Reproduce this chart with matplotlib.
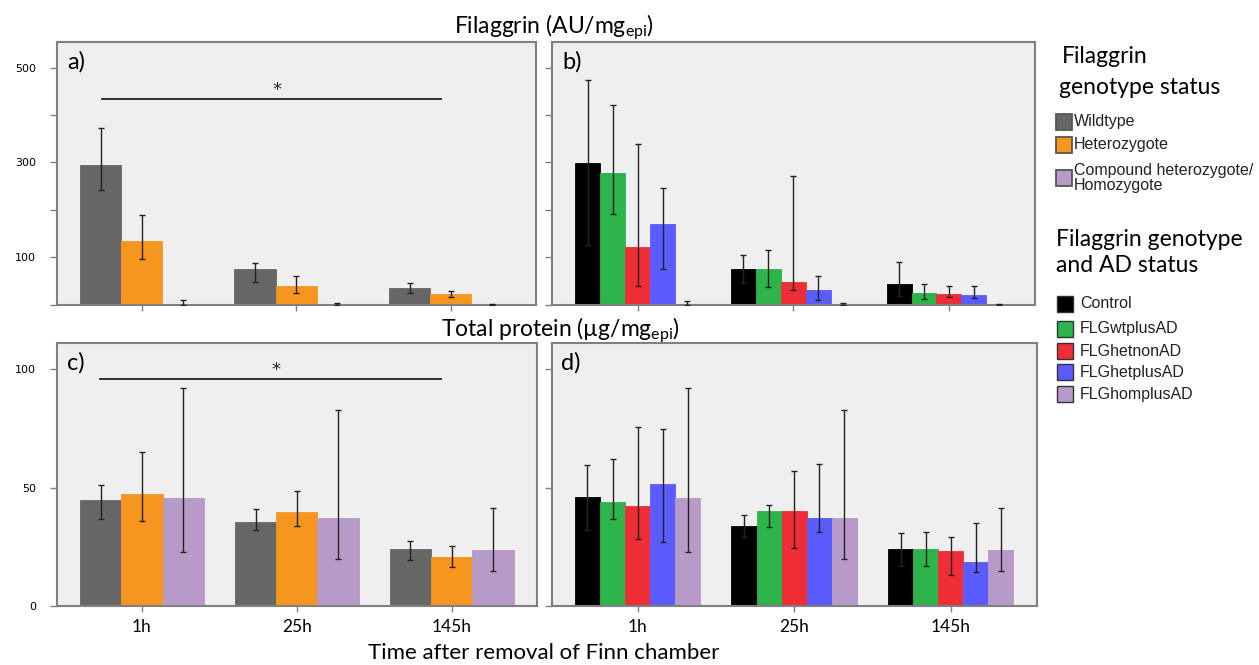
import numpy as np
import matplotlib
matplotlib.use("Agg")
import matplotlib.pyplot as plt
from matplotlib.patches import Rectangle

plt.rcParams['font.family'] = ['Lato', 'DejaVu Sans']
plt.rcParams['mathtext.fontset'] = 'custom'
plt.rcParams['mathtext.rm'] = 'Lato'
plt.rcParams['mathtext.it'] = 'Lato:italic'
plt.rcParams['mathtext.bf'] = 'Lato:bold'

# ---------------- data ----------------
times = ['1h', '25h', '145h']
genotypes = ['Wildtype', 'Heterozygote', 'Compound heterozygote/\nHomozygote']
ad_groups = ['Control', 'FLGwtplusAD', 'FLGhetnonAD', 'FLGhetplusAD', 'FLGhomplusAD']

# Filaggrin (AU/mg epi) by genotype: rows = genotypes, cols = times
flg_geno_mean = [[295, 74, 35], [134, 39, 22], [1.0, 1.5, 0.5]]
flg_geno_lo = [[241, 48, 24], [95, 24, 15], [0, 0, 0]]
flg_geno_hi = [[373, 87, 46], [189, 60, 29.5], [9, 3, 1]]

# Filaggrin by genotype and AD status
flg_ad_mean = [[299, 74, 44], [277, 74, 25], [121, 47, 22], [170, 30, 21], [1.0, 1.5, 0.5]]
flg_ad_lo = [[125, 45, 18], [192, 37, 12], [38, 30, 15], [74, 9, 13], [0, 0, 0]]
flg_ad_hi = [[473, 104, 90], [421, 114, 44], [338, 272, 39], [246, 60, 39], [8, 3, 1]]

# Total protein (ug/mg epi) by genotype
tp_geno_mean = [[44.8, 35.4, 24.2], [47.2, 39.7, 20.8], [45.5, 37.2, 23.7]]
tp_geno_lo = [[36.8, 32.0, 19.4], [35.9, 33.7, 16.6], [22.7, 19.9, 14.9]]
tp_geno_hi = [[51.1, 41.0, 27.5], [65.2, 48.6, 25.3], [92.2, 82.8, 41.5]]

# Total protein by genotype and AD status
tp_ad_mean = [[45.8, 33.7, 24.1], [43.8, 40.1, 24.2], [42.2, 40.3, 23.4], [51.3, 37.2, 18.7], [45.5, 37.2, 23.7]]
tp_ad_lo = [[32.0, 29.0, 17.0], [36.8, 33.2, 16.8], [28.3, 24.4, 13.1], [26.9, 31.4, 14.4], [22.7, 19.9, 14.9]]
tp_ad_hi = [[59.7, 38.4, 31.0], [62.2, 42.5, 31.4], [75.5, 56.8, 29.2], [74.5, 60.0, 35.2], [92.2, 82.8, 41.5]]

# significance bars: (from group, to group, height)
sig_flg = (-0.26, 1.94, 434)
sig_tp = (-0.27, 1.93, 96)

geno_colors = ['#666666', '#F7961E', '#B89AC9']
ad_colors = ['#000000', '#2DB44A', '#EE2D36', '#5A5CFF', '#B89AC9']

# ---------------- layout ----------------
W, H = 1259, 665
fig = plt.figure(figsize=(W / 100, H / 100), dpi=100)


def rect(x0, y0, x1, y1):
    return [x0 / W, 1 - y1 / H, (x1 - x0) / W, (y1 - y0) / H]


axA = fig.add_axes(rect(56.8, 42, 535.7, 304.5))
axB = fig.add_axes(rect(552, 42, 1034.5, 304.5))
axC = fig.add_axes(rect(56.8, 343, 536.8, 606))
axD = fig.add_axes(rect(551.5, 343, 1036.7, 606))


def draw(ax, means, los, his, colors):
    n = len(means)
    x = np.arange(len(times))
    w = 0.8 / n
    for i in range(n):
        m = np.array(means[i], float)
        lo = np.array(los[i], float)
        hi = np.array(his[i], float)
        xi = x + (i - (n - 1) / 2) * w
        ax.bar(xi, m, width=w, color=colors[i], edgecolor=colors[i], linewidth=0.6, zorder=2)
        ax.errorbar(xi, m, yerr=[m - lo, hi - m], fmt='none', ecolor='#222222',
                    elinewidth=1.0, capsize=2.5, capthick=1.0, zorder=3)


def style(ax, ylim, yticks, ylabels, xlabels):
    ax.set_facecolor('#EFEFEF')
    ax.set_xlim(-0.55, 2.55)
    ax.set_ylim(0, ylim)
    for s in ax.spines.values():
        s.set_color('#808080')
        s.set_linewidth(1.5)
    ax.set_yticks(yticks)
    ax.set_yticklabels(ylabels, fontsize=8, family='DejaVu Sans')
    ax.set_xticks(np.arange(len(times)))
    if xlabels:
        ax.set_xticklabels(times, fontsize=12.5)
    else:
        ax.set_xticklabels([])
    ax.tick_params(axis='y', length=5, width=1, color='#808080', pad=10)
    ax.tick_params(axis='x', length=4, width=1, color='#808080', pad=5)


draw(axA, flg_geno_mean, flg_geno_lo, flg_geno_hi, geno_colors)
draw(axB, flg_ad_mean, flg_ad_lo, flg_ad_hi, ad_colors)
draw(axC, tp_geno_mean, tp_geno_lo, tp_geno_hi, geno_colors)
draw(axD, tp_ad_mean, tp_ad_lo, tp_ad_hi, ad_colors)

top_ticks = [0, 100, 200, 300, 400, 500]
top_labels = ['', '100', '', '300', '', '500']
bot_ticks = [0, 50, 100]
style(axA, 554, top_ticks, top_labels, False)
style(axB, 554, top_ticks, [''] * 6, False)
style(axC, 111, bot_ticks, ['0', '50', '100'], True)
style(axD, 111, bot_ticks, [''] * 3, True)

for ax, sig in [(axA, sig_flg), (axC, sig_tp)]:
    x0, x1, yv = sig
    ax.plot([x0, x1], [yv, yv], color='#222222', lw=1.3, zorder=4)
    ax.text((x0 + x1) / 2 + 0.035, yv, '*', ha='center', va='bottom', fontsize=13,
            family='DejaVu Sans', color='#222222')

for ax, lab in [(axA, 'a)'), (axB, 'b)'), (axC, 'c)'), (axD, 'd)')]:
    ax.annotate(lab, xy=(0, 1), xycoords='axes fraction', xytext=(10, -9),
                textcoords='offset pixels', ha='left', va='top', fontsize=17)

# ---------------- titles ----------------
ov = fig.add_axes([0, 0, 1, 1], zorder=10)
ov.set_xlim(0, W)
ov.set_ylim(H, 0)
ov.axis('off')

ov.text(554, 33, r'Filaggrin (AU/mg$_{\mathregular{epi}}$)', ha='center', va='baseline', fontsize=16.5)
ov.text(560, 336, r'Total protein (µg/mg$_{\mathregular{epi}}$)', ha='center', va='baseline', fontsize=16.5)
ov.text(544, 659, 'Time after removal of Finn chamber', ha='center', va='baseline', fontsize=16)

# ---------------- legends ----------------
ov.text(1062, 63, 'Filaggrin', ha='left', va='baseline', fontsize=16.5)
ov.text(1059, 94, 'genotype status', ha='left', va='baseline', fontsize=16.5)
leg1_y = [121.5, 144.5, 178]
for c, lab, yc in zip(geno_colors, genotypes, leg1_y):
    ov.add_patch(Rectangle((1056, yc - 8), 16, 16, facecolor=c, edgecolor='#555555', lw=1.3))
    ov.text(1074, yc, lab, ha='left', va='center', fontsize=11.5, family='Liberation Sans',
            linespacing=0.95, color='#222222')

ov.text(1056, 246, 'Filaggrin genotype', ha='left', va='baseline', fontsize=16.5)
ov.text(1056, 272, 'and AD status', ha='left', va='baseline', fontsize=16.5)
leg2_y = [304, 329, 351, 372, 394]
for c, lab, yc in zip(ad_colors, ad_groups, leg2_y):
    ov.add_patch(Rectangle((1057, yc - 8), 16, 16, facecolor=c, edgecolor='#333333', lw=1.0))
    ov.text(1080, yc, lab, ha='left', va='center', fontsize=11.5, family='Liberation Sans',
            color='#222222')

fig.savefig('out.png', dpi=100, facecolor='white')
